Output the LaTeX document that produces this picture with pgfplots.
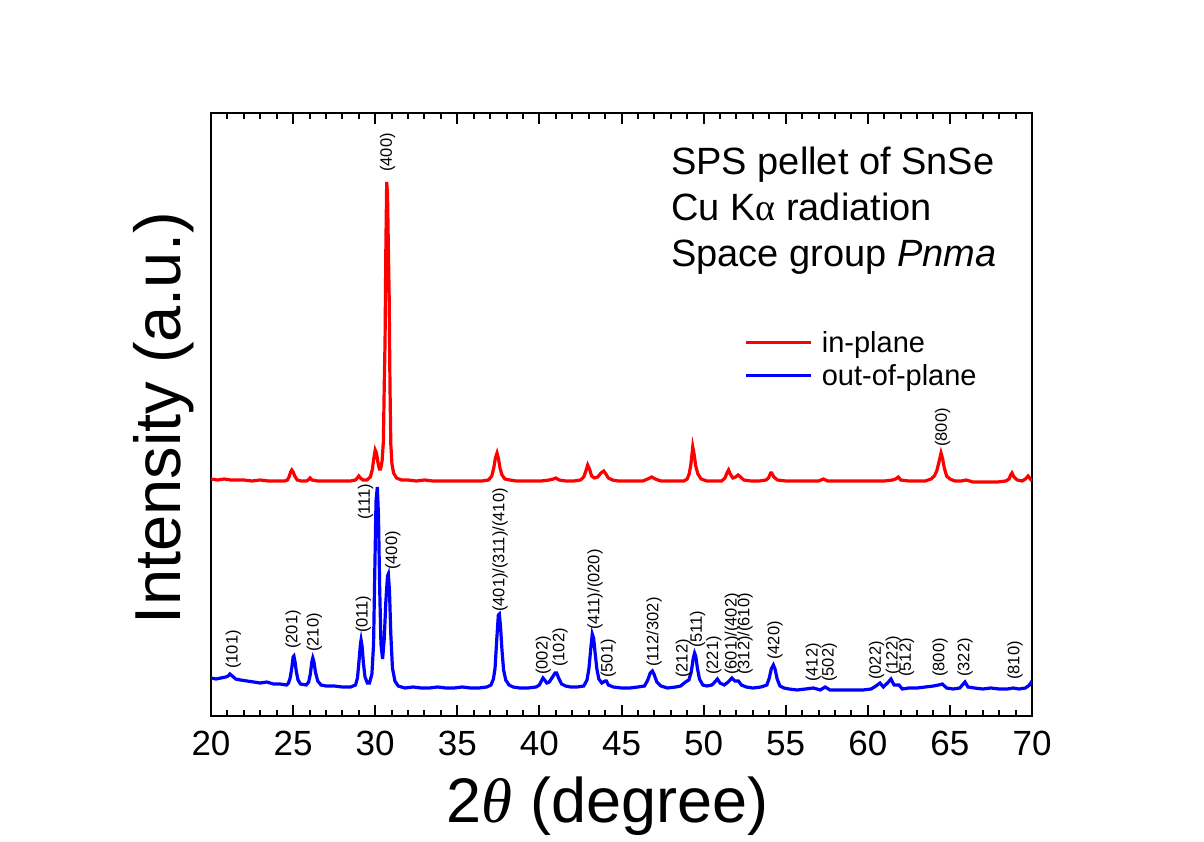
\documentclass[border=0pt]{standalone}
\usepackage{fontspec}
\setmainfont{Liberation Sans}
\newfontfamily\serif{Liberation Serif}
\usepackage{pgfplots}
\pgfplotsset{compat=1.18}
\usepackage{pgfplotstable}

\pgfplotstableread{
x y
20.0 237
20.4 236
20.8 237
21.2 236
21.6 236
22.0 236
22.5 235
23.0 236
23.5 235
24.0 235
24.5 235
24.65 236
24.75 239
24.85 244
24.92 246
25.0 244
25.1 240
25.25 236
25.5 235
25.8 235
25.92 236
26.03 238
26.15 236
26.5 235
27.0 235
27.5 235
28.0 235
28.5 235
28.8 236
28.92 238
29.0 240
29.1 238
29.25 236
29.5 236
29.7 239
29.82 246
29.92 258
30.0 266
30.08 263
30.16 254
30.25 247
30.33 247
30.42 255
30.5 275
30.55 330
30.6 375
30.65 470
30.7 534
30.75 522
30.8 470
30.85 420
30.9 330
30.95 272
31.02 252
31.12 243
31.3 238
31.6 236
32.0 236
32.5 235
33.0 236
33.5 235
34.0 235
34.5 235
35.0 235
35.5 235
36.0 235
36.5 235
36.9 236
37.1 240
37.22 248
37.32 258
37.42 263
37.5 258
37.6 248
37.72 241
37.9 237
38.2 236
38.6 235
39.1 235
39.6 235
40.1 235
40.6 236
40.85 237
41.0 238
41.2 236
41.6 235
42.1 235
42.5 236
42.7 239
42.83 245
42.94 251
43.05 247
43.18 240
43.35 238
43.55 239
43.75 243
43.92 245
44.05 242
44.2 238
44.45 236
44.8 235
45.3 235
45.8 235
46.3 235
46.6 237
46.84 239
47.05 237
47.4 235
47.9 235
48.4 235
48.8 235
49.0 237
49.12 242
49.22 251
49.34 269
49.42 262
49.52 250
49.65 242
49.85 237
50.2 235
50.7 235
51.1 235
51.3 238
51.42 243
51.52 246
51.62 242
51.78 238
51.95 239
52.1 241
52.25 239
52.45 236
52.9 235
53.4 235
53.8 236
53.95 238
54.08 243
54.15 243
54.28 239
54.5 236
55.0 235
55.5 235
56.0 235
56.5 235
57.0 235
57.3 237
57.55 235
58.0 235
58.5 235
59.0 235
59.5 235
60.0 235
60.5 235
61.0 235
61.5 236
61.7 237
61.86 239
62.0 236
62.5 235
63.0 235
63.5 235
63.85 237
64.05 240
64.2 245
64.32 253
64.46 263
64.56 257
64.66 248
64.8 240
65.0 237
65.3 235
65.7 235
66.0 236
66.4 234
66.9 234
67.4 234
67.9 234
68.4 235
68.6 237
68.7 241
68.78 243
68.9 239
69.1 236
69.4 235
69.6 237
69.76 240
69.9 237
70.0 235
}\redtab

\pgfplotstableread{
x y
20.0 38
20.3 37
20.6 38
20.9 39
21.05 40
21.15 42
21.3 40
21.5 37
21.8 36
22.2 35
22.6 34
23.0 33
23.4 34
23.8 32
24.2 32
24.6 31
24.72 33
24.82 38
24.92 48
25.0 59
25.05 60
25.12 54
25.2 44
25.3 36
25.45 32
25.8 31
25.95 34
26.05 42
26.14 54
26.2 58
26.27 54
26.36 44
26.5 35
26.7 31
27.0 30
27.5 30
28.0 29
28.5 29
28.8 31
28.92 38
29.02 56
29.1 72
29.14 76
29.2 70
29.28 53
29.38 39
29.52 33
29.65 33
29.8 42
29.9 72
29.97 140
30.05 215
30.13 229
30.2 200
30.27 130
30.35 72
30.45 57
30.55 77
30.65 115
30.75 140
30.8 142
30.87 125
30.95 82
31.05 48
31.2 35
31.4 30
31.8 28
32.3 29
32.8 28
33.3 28
33.8 29
34.3 28
34.8 28
35.3 29
35.8 28
36.3 28
36.8 29
37.05 31
37.2 37
37.3 48
37.4 76
37.5 101
37.56 102
37.63 90
37.72 66
37.82 46
37.95 36
38.15 31
38.4 29
38.8 28
39.3 28
39.8 29
40.0 31
40.12 35
40.22 38
40.32 36
40.45 33
40.6 34
40.8 39
40.95 43
41.05 43
41.17 38
41.35 32
41.6 30
41.9 29
42.3 29
42.7 30
42.9 36
43.02 48
43.12 66
43.22 82
43.3 78
43.4 62
43.5 47
43.62 37
43.8 33
44.0 35
44.08 35
44.2 31
44.5 29
45.0 28
45.5 28
46.0 29
46.4 30
46.6 36
46.75 43
46.88 45
47.0 41
47.15 34
47.4 30
47.8 28
48.3 29
48.6 30
48.75 32
48.9 34
49.1 36
49.25 44
49.37 58
49.45 63
49.52 60
49.62 48
49.75 37
49.95 31
50.2 30
50.5 31
50.68 34
50.84 37
51.0 33
51.25 31
51.5 34
51.72 38
51.9 35
52.12 35
52.3 31
52.6 29
53.0 28
53.5 29
53.85 31
54.0 38
54.12 47
54.25 51
54.35 47
54.48 37
54.65 30
54.9 28
55.2 27
55.7 26
56.2 27
56.68 28
56.9 27
57.1 26
57.4 29
57.7 26
58.2 26
58.7 26
59.2 26
59.7 26
60.2 27
60.5 30
60.74 33
60.95 29
61.2 33
61.41 37
61.6 31
61.9 31
62.1 27
62.5 28
63.0 28
63.5 29
64.0 30
64.3 31
64.54 32
64.8 28
65.2 27
65.6 28
65.92 34
66.1 29
66.5 28
67.0 27
67.5 28
68.0 27
68.5 27
68.86 28
69.2 27
69.6 28
69.85 31
70.0 35
}\bluetab

\tikzset{lbl/.style={rotate=90, anchor=west, inner sep=0pt, font=\fontsize{16.5}{19}\selectfont}}

\begin{document}
\begin{tikzpicture}
\useasboundingbox (0pt,0pt) rectangle (1204pt,841pt);
\begin{axis}[
  at={(211pt,125pt)}, anchor=south west,
  scale only axis, width=821pt, height=603pt,
  xmin=20, xmax=70, ymin=0, ymax=603,
  axis line style={line width=2.5pt, black},
  xtick={20,25,...,70}, minor x tick num=4,
  ytick=\empty,
  tick align=inside, xtick pos=both, xticklabel pos=bottom,
  major tick length=11pt, minor tick length=6pt,
  tick style={line width=2pt, black},
  /pgf/number format/assume math mode=true,
  tick label style={font=\fontsize{35}{40}\selectfont},
  xticklabel style={yshift=-12pt},
  xlabel={2{\serif\itshape θ} (degree)},
  xlabel style={font=\fontsize{63}{70}\selectfont, at={(axis description cs:0.483,-0.176)}, anchor=base},
  ylabel={Intensity (a.u.)},
  ylabel style={font=\fontsize{65}{72}\selectfont, at={(axis description cs:-0.058,0.494)}, anchor=center},
  legend style={draw=none, fill=none, inner sep=0pt, outer sep=0pt,
    at={(axis description cs:0.650,0.640)}, anchor=north west,
    font=\fontsize{29}{34}\selectfont, row sep=9pt, column sep=0pt,
    nodes={inner sep=1pt}},
  legend cell align=left,
  legend image code/.code={\draw[#1] (0pt,0pt) -- (65pt,0pt);},
]
\addplot[red, line width=3.2pt] table[x=x,y=y] {\redtab};
\addlegendentry{\hspace{8pt}in-plane}
\addplot[blue, line width=3.2pt] table[x=x,y=y] {\bluetab};
\addlegendentry{\hspace{8pt}out-of-plane}

\node[lbl] at (axis cs:30.76,544) {(400)};
\node[lbl] at (axis cs:64.56,269) {(800)};

\node[lbl] at (axis cs:21.36,47) {(101)};
\node[lbl] at (axis cs:25.0,67) {(201)};
\node[lbl] at (axis cs:26.3,64) {(210)};
\node[lbl] at (axis cs:29.28,83) {(011)};
\node[lbl] at (axis cs:29.42,196) {(111)};
\node[lbl] at (axis cs:31.07,146) {(400)};
\node[lbl] at (axis cs:37.6,104) {(401)/(311)/(410)};
\node[lbl] at (axis cs:40.24,41) {(002)};
\node[lbl] at (axis cs:41.26,49) {(102)};
\node[lbl] at (axis cs:43.39,86) {(411)/(020)};
\node[lbl] at (axis cs:44.2,38) {(501)};
\node[lbl] at (axis cs:46.98,49) {(112/302)};
\node[lbl] at (axis cs:48.77,38) {(212)};
\node[lbl] at (axis cs:49.64,68) {(511)};
\node[lbl] at (axis cs:50.63,41) {(221)};
\node[lbl] at (axis cs:51.75,41) {(601)/(402)};
\node[lbl] at (axis cs:52.52,41) {(312)/(610)};
\node[lbl] at (axis cs:54.35,56) {(420)};
\node[lbl] at (axis cs:56.68,34) {(412)};
\node[lbl] at (axis cs:57.66,34) {(502)};
\node[lbl] at (axis cs:60.54,36) {(022)};
\node[lbl] at (axis cs:61.56,41) {(122)};
\node[lbl] at (axis cs:62.37,39) {(512)};
\node[lbl] at (axis cs:64.4,39) {(800)};
\node[lbl] at (axis cs:65.92,39) {(322)};
\node[lbl] at (axis cs:68.97,36) {(810)};
\end{axis}
\node[anchor=base west, inner sep=0pt, font=\fontsize{38}{44}\selectfont] at (671pt,666pt) {SPS pellet of SnSe};
\node[anchor=base west, inner sep=0pt, font=\fontsize{38}{44}\selectfont] at (671pt,620pt) {Cu K{\serif α} radiation};
\node[anchor=base west, inner sep=0pt, font=\fontsize{38}{44}\selectfont] at (671pt,574pt) {Space group \textit{Pnma}};
\end{tikzpicture}
\end{document}
